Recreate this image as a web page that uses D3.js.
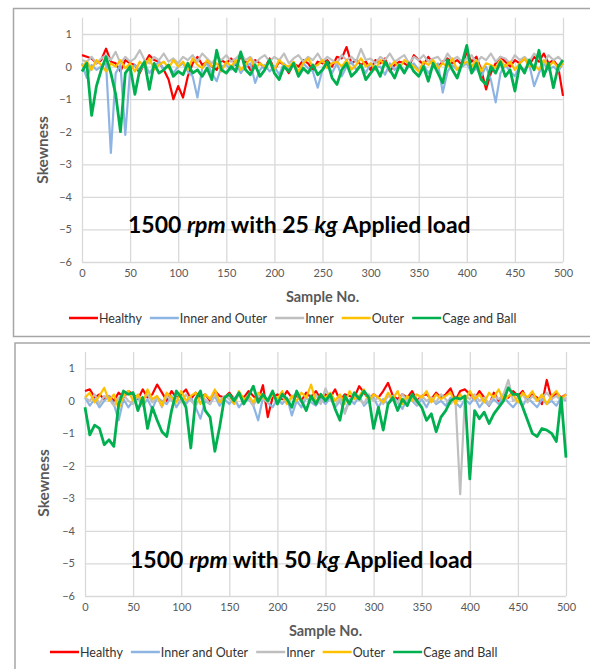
<!DOCTYPE html>
<html>
<head>
<meta charset="utf-8">
<script src="https://cdn.jsdelivr.net/npm/d3@7"></script>
<style>
    body { margin: 0; background: #fff; }
    text { font-family: Lato, 'Liberation Sans', sans-serif; }
</style>
</head>
<body>
<div id="d3-chart"></div>
<script>
// sample numbers (every 5th sample)
const sampleNo = d3.range(0, 501, 5);
const xTicks = [0, 50, 100, 150, 200, 250, 300, 350, 400, 450, 500];
const yTicks = [-6, -5, -4, -3, -2, -1, 0, 1];
const seriesNames = ['Healthy', 'Inner and Outer', 'Inner', 'Outer', 'Cage and Ball'];
const seriesColors = ['#FF0000', '#8EB4E3', '#BFBFBF', '#FFC000', '#00B050'];

// ---- 25 kg load ----
const healthy25 = [
    0.35, 0.3, 0.25, 0.1, 0.2, 0.55, 0.15, 0.1, -0.15, 0.2,
    0.1, 0.05, -0.2, 0.1, 0.35, 0.2, 0.15, -0.1, -0.4, -1.0,
    -0.6, -0.95, -0.3, 0.1, 0.3, 0.05, 0.15, 0.0, -0.1, 0.2,
    0.1, 0.25, 0.05, 0.3, 0.15, -0.1, 0.2, 0.1, -0.05, 0.25,
    -0.1, 0.15, 0.05, -0.2, 0.1, 0.0, 0.2, 0.1, -0.1, 0.15,
    0.1, 0.2, 0.0, 0.3, 0.25, 0.6, 0.1, 0.2, 0.05, 0.15,
    -0.1, 0.2, 0.1, 0.25, -0.15, 0.05, 0.15, 0.1, 0.0, 0.35,
    0.2, 0.05, 0.3, 0.1, 0.0, 0.15, 0.25, 0.1, 0.2, 0.05,
    0.45, 0.15, 0.3, -0.1, -0.7, -0.2, 0.1, 0.3, 0.15, 0.0,
    0.2, 0.1, 0.25, 0.05, 0.3, 0.15, 0.4, 0.1, 0.2, 0.0,
    -0.9
];
const innerOuter25 = [
    0.1, -0.35, 0.05, -0.1, 0.0, 0.1, -2.65, -0.2, 0.05, -2.1,
    -0.1, 0.05, -0.15, 0.1, -0.2, 0.0, 0.15, -0.1, 0.05, -0.2,
    0.0, 0.1, -0.15, -0.3, -0.95, -0.05, 0.1, -0.2, -0.45, 0.0,
    0.05, -0.1, 0.15, -0.2, 0.0, 0.1, -0.5, -0.1, 0.05, -0.15,
    0.0, -0.25, 0.1, -0.1, 0.05, -0.2, 0.1, -0.05, -0.15, -0.65,
    -0.1, 0.05, -0.2, 0.1, -0.3, 0.0, 0.15, -0.1, 0.05, -0.2,
    0.1, -0.05, 0.0, -0.25, 0.1, -0.1, 0.05, -0.15, 0.0, 0.1,
    -0.1, 0.05, -0.2, 0.0, 0.1, -0.8, -0.15, 0.05, -0.1, 0.0,
    0.1, -0.2, -0.05, -0.3, 0.0, -0.4, -1.1, -0.2, 0.05, -0.15,
    -0.3, 0.0, -0.1, 0.05, -0.6, -0.2, 0.1, -0.1, 0.0, -0.15,
    0.1
];
const inner25 = [
    0.2, 0.15, 0.3, 0.1, 0.25, 0.35, 0.2, 0.45, 0.1, 0.3,
    0.15, 0.25, 0.5, 0.2, 0.1, 0.3, 0.2, 0.4, 0.15, 0.25,
    0.1, 0.3, 0.2, 0.35, 0.15, 0.4, 0.25, 0.1, 0.3, 0.2,
    0.35, 0.15, 0.25, 0.4, 0.2, 0.3, 0.1, 0.25, 0.35, 0.15,
    0.3, 0.2, 0.4, 0.1, 0.25, 0.35, 0.15, 0.3, 0.2, 0.4,
    0.15, 0.3, 0.2, 0.1, 0.35, 0.2, 0.3, 0.15, 0.54, 0.2,
    0.25, 0.1, 0.3, 0.2, 0.4, 0.15, 0.25, 0.35, 0.1, 0.3,
    0.2, 0.35, 0.15, 0.25, 0.3, 0.1, 0.4, 0.2, 0.3, 0.15,
    0.25, 0.35, 0.1, 0.3, 0.2, 0.4, 0.15, 0.3, 0.25, 0.1,
    0.35, 0.2, 0.3, 0.15, 0.4, 0.25, 0.1, 0.35, 0.2, 0.3,
    0.15
];
const outer25 = [
    0.0, 0.15, -0.1, 0.2, 0.05, -0.15, 0.1, 0.0, 0.2, -0.05,
    0.1, -0.15, 0.15, 0.0, 0.25, -0.1, 0.05, 0.15, -0.05, 0.2,
    0.0, 0.15, -0.1, 0.25, 0.05, -0.05, 0.2, 0.0, 0.1, -0.15,
    0.15, 0.0, 0.2, -0.1, 0.05, 0.25, -0.05, 0.1, 0.0, 0.15,
    -0.1, 0.2, 0.05, 0.0, 0.15, -0.15, 0.1, 0.25, 0.0, 0.05,
    0.2, -0.05, 0.1, 0.15, 0.0, 0.2, -0.1, 0.05, 0.25, 0.0,
    0.1, -0.1, 0.2, 0.05, 0.0, 0.15, -0.05, 0.2, 0.1, 0.0,
    -0.15, 0.15, 0.05, 0.2, -0.05, 0.1, 0.0, 0.25, -0.1, 0.05,
    0.15, 0.0, 0.2, -0.15, 0.1, 0.05, -0.05, 0.2, 0.0, 0.15,
    -0.1, 0.1, 0.25, 0.0, 0.05, -0.1, 0.2, 0.0, 0.15, -0.05,
    0.1
];
const cageBall25 = [
    -0.15, 0.1, -1.5, -0.6, -0.1, 0.3, -0.2, -0.85, -2.0, -0.2,
    0.0, -0.85, -0.1, 0.15, -0.7, 0.1, -0.2, -0.1, 0.05, -0.3,
    -0.15, -0.25, 0.1, -0.2, -0.1, -0.3, -0.05, -0.4, 0.5, -0.1,
    -0.2, 0.0, -0.15, 0.45, -0.1, -0.25, 0.05, -0.3, -0.1, 0.2,
    -0.2, -0.4, 0.0, -0.15, 0.1, -0.3, -0.05, -0.2, 0.05, -0.25,
    -0.1, 0.15, -0.35, -0.55, -0.1, 0.1, -0.3, -0.15, 0.05, -0.4,
    -0.2, 0.0, -0.3, 0.15, -0.1, -0.35, 0.05, -0.2, 0.1, -0.15,
    -0.3, 0.0, -0.45, 0.1, -0.2, -0.5, 0.2, -0.1, -0.35, 0.1,
    0.65, -0.2, 0.1, -0.4, -0.55, 0.0, -0.2, 0.15, -0.3, -0.1,
    -0.75, 0.05, -0.2, 0.2, -0.1, 0.5, -0.3, 0.1, -0.65, 0.0,
    0.2
];

// ---- 50 kg load ----
const healthy50 = [
    0.3, 0.35, 0.1, 0.2, 0.05, 0.15, 0.0, 0.25, 0.1, 0.3,
    0.2, 0.05, 0.35, 0.1, 0.2, 0.5, 0.25, 0.0, 0.3, 0.1,
    0.2, 0.35, 0.05, 0.25, 0.1, 0.2, 0.0, 0.3, 0.15, 0.1,
    0.25, 0.05, 0.2, 0.1, 0.3, 0.15, 0.0, 0.48, -0.5, 0.1,
    0.2, 0.05, 0.3, 0.1, 0.15, 0.0, 0.25, 0.1, 0.3, 0.05,
    0.2, 0.1, 0.35, 0.0, 0.2, 0.15, 0.1, 0.45, 0.25, 0.05,
    0.2, 0.1, 0.3, 0.55, 0.15, 0.05, 0.2, 0.1, 0.3, 0.0,
    0.15, 0.2, 0.05, 0.25, 0.1, 0.2, 0.38, 0.0, 0.3, 0.35,
    0.2, 0.05, 0.3, 0.1, -0.15, 0.25, 0.0, 0.2, 0.1, 0.3,
    0.15, 0.3, 0.0, 0.2, 0.1, -0.1, 0.64, 0.05, 0.25, 0.1,
    0.2
];
const innerOuter50 = [
    0.1, -0.15, 0.05, -0.2, 0.0, 0.15, -0.1, -0.6, 0.05, -0.2,
    0.0, 0.1, -0.15, 0.05, -0.25, 0.1, 0.0, -0.1, 0.15, -0.2,
    0.05, -0.1, 0.1, -0.2, -0.55, 0.0, -0.1, 0.15, -0.15, 0.05,
    -0.1, 0.1, -0.2, 0.0, 0.05, -0.15, -0.6, 0.1, -0.05, -0.2,
    0.05, -0.1, 0.1, -0.45, 0.0, -0.2, 0.1, -0.05, -0.15, 0.05,
    -0.1, 0.1, -0.2, 0.0, -0.35, 0.05, -0.1, 0.15, -0.15, 0.0,
    0.1, -0.2, 0.05, -0.1, 0.15, -0.05, -0.25, 0.1, 0.0, -0.15,
    0.05, -0.2, 0.1, -0.1, 0.0, -0.15, 0.1, -0.05, -0.2, 0.05,
    -0.1, 0.1, -0.2, 0.0, -0.15, 0.05, -0.1, 0.15, -0.05, -0.2,
    0.0, -0.15, 0.1, -0.05, -0.2, 0.05, -0.1, 0.0, -0.15, 0.1,
    0.0
];
const inner50 = [
    0.1, 0.0, 0.2, -0.1, 0.15, 0.05, -0.15, 0.1, 0.2, 0.0,
    -0.1, 0.15, 0.05, 0.2, -0.05, 0.1, -0.2, 0.15, 0.0, 0.1,
    -0.05, 0.2, 0.0, -0.15, 0.1, 0.05, -0.1, 0.2, 0.0, 0.15,
    0.05, -0.1, 0.2, 0.0, 0.1, -0.15, 0.15, 0.05, -0.05, 0.2,
    0.0, 0.15, -0.1, 0.1, 0.25, -0.05, 0.1, 0.0, 0.2, -0.1,
    0.38, 0.05, -0.15, 0.1, -0.4, 0.0, 0.15, 0.05, -0.1, 0.2,
    0.0, 0.1, -0.1, 0.15, 0.05, -0.05, 0.2, 0.0, 0.1, -0.1,
    0.15, 0.0, 0.1, -0.05, 0.2, 0.05, -0.1, 0.1, -2.87, 0.15,
    0.05, 0.2, 0.0, 0.1, -0.1, 0.15, 0.05, 0.2, 0.64, 0.0,
    0.1, 0.2, -0.05, 0.15, 0.0, 0.1, 0.25, 0.05, 0.15, 0.0,
    0.1
];
const outer50 = [
    0.1, 0.25, -0.05, 0.15, 0.4, 0.0, 0.2, -0.25, 0.15, 0.3,
    0.0, 0.2, -0.1, 0.35, 0.05, 0.15, -0.15, 0.25, 0.1, -0.05,
    0.3, 0.0, 0.15, 0.25, -0.1, 0.2, 0.05, 0.35, -0.05, 0.1,
    0.2, -0.1, 0.3, 0.05, 0.15, -0.05, 0.25, 0.1, 0.0, 0.2,
    0.05, 0.3, -0.1, 0.15, 0.0, 0.25, 0.1, 0.5, -0.05, 0.2,
    0.1, 0.25, 0.0, 0.2, -0.1, 0.3, 0.05, 0.15, 0.35, 0.0,
    0.2, 0.1, -0.05, 0.25, 0.05, 0.3, -0.1, 0.15, 0.0, 0.2,
    0.1, 0.3, -0.05, 0.2, 0.05, 0.15, 0.25, -0.1, 0.2, 0.0,
    0.3, 0.05, 0.2, -0.05, 0.25, 0.1, 0.35, 0.0, 0.15, 0.2,
    -0.05, 0.25, 0.1, 0.3, 0.0, 0.2, -0.1, 0.15, 0.3, 0.05,
    0.2
];
const cageBall50 = [
    -0.2, -1.05, -0.75, -0.85, -1.35, -1.2, -1.4, -0.1, 0.3, 0.2,
    0.25, -0.3, 0.1, -0.85, -0.2, -0.6, -0.95, -1.1, -0.3, 0.3,
    0.1, -0.2, -1.45, 0.05, 0.3, -0.3, -0.5, -1.55, -0.8, 0.1,
    0.2, 0.0, 0.25, -0.1, 0.15, 0.45, -0.05, 0.2, 0.0, 0.3,
    -0.1, 0.2, 0.05, -0.2, 0.3, 0.0, -0.3, 0.15, -0.1, 0.2,
    0.0, 0.2, -0.25, -0.6, 0.15, -0.1, 0.25, 0.05, 0.3, 0.1,
    -0.85, -0.2, -0.9, -0.1, 0.1, -0.3, 0.05, -0.15, 0.2, 0.0,
    -0.2, -0.6, -0.4, -0.95, -0.5, -0.3, 0.0, 0.1, 0.05, 0.15,
    -2.4, -0.3, -0.55, -0.35, -0.7, -0.4, -0.2, 0.0, 0.4, 0.2,
    0.2, -0.2, -0.6, -1.0, -1.1, -0.85, -0.9, -1.0, -1.25, 0.1,
    -1.75
];

const svg = d3.select('#d3-chart').append('svg')
    .attr('width', 590)
    .attr('height', 669);

const drawPanel = (opts) => {
    // outer chart border
    svg.append('rect')
        .attr('x', opts.frameX)
        .attr('y', opts.frameY)
        .attr('width', 640 - opts.frameX)
        .attr('height', opts.frameH)
        .attr('fill', 'none')
        .attr('stroke', '#a6a6a6')
        .attr('stroke-width', 1.5);

    const xScale = d3.scaleLinear().domain([0, 500]).range([opts.left, opts.right]);
    const yScale = d3.scaleLinear().domain([-6, 1.5]).range([opts.bottom, opts.top]);
    const w = opts.right - opts.left;
    const h = opts.bottom - opts.top;

    // gridlines + tick labels
    const xAxis = d3.axisBottom(xScale).tickValues(xTicks).tickSize(-h).tickPadding(7);
    const yAxis = d3.axisLeft(yScale).tickValues(yTicks).tickSize(-w).tickPadding(10);
    const gx = svg.append('g')
        .attr('transform', 'translate(0,' + opts.bottom + ')')
        .call(xAxis);
    const gy = svg.append('g')
        .attr('transform', 'translate(' + opts.left + ',0)')
        .call(yAxis);
    [gx, gy].forEach(g => {
        g.select('.domain').remove();
        g.selectAll('.tick line').attr('stroke', '#d9d9d9').attr('stroke-width', 1.3);
        g.selectAll('.tick text')
            .attr('fill', '#595959')
            .style('font-size', '11px')
            .style('font-family', 'Lato, sans-serif');
    });
    gy.selectAll('.tick line').attr('x2', w);

    // series, drawn in legend order so green ends up on top
    const line = d3.line()
        .x((d, i) => xScale(sampleNo[i]))
        .y(d => yScale(d));
    opts.series.forEach((s, k) => {
        svg.append('path')
            .datum(s)
            .attr('fill', 'none')
            .attr('stroke', seriesColors[k])
            .attr('stroke-width', k === 4 ? 2.8 : 2.2)
            .attr('stroke-linejoin', 'round')
            .attr('d', line);
    });

    // axis titles
    svg.append('text')
        .attr('x', (opts.left + opts.right) / 2)
        .attr('y', opts.bottom + 40)
        .attr('text-anchor', 'middle')
        .attr('fill', '#595959')
        .style('font-size', '14.5px')
        .style('font-weight', 'bold')
        .text('Sample No.');
    svg.append('text')
        .attr('transform', 'translate(' + (opts.frameX + 34) + ',' + opts.yTitle + ') rotate(-90)')
        .attr('text-anchor', 'middle')
        .attr('fill', '#595959')
        .style('font-size', '15.5px')
        .style('font-weight', 'bold')
        .text('Skewness');

    // annotation inside the plot
    const note = svg.append('text')
        .attr('x', opts.noteX)
        .attr('y', opts.noteY)
        .attr('fill', '#000')
        .style('font-size', '23px')
        .style('font-weight', 'bold');
    note.append('tspan').text('1500 ');
    note.append('tspan').style('font-style', 'italic').text('rpm');
    note.append('tspan').text(' with ' + opts.load + ' ');
    note.append('tspan').style('font-style', 'italic').text('kg');
    note.append('tspan').text(' Applied load');

    // legend
    const legend = svg.append('g')
        .attr('transform', 'translate(0,' + (opts.bottom + 56) + ')');
    let lx = opts.legendX;
    seriesNames.forEach((name, k) => {
        legend.append('line')
            .attr('x1', lx).attr('x2', lx + 29)
            .attr('y1', 0).attr('y2', 0)
            .attr('stroke', seriesColors[k])
            .attr('stroke-width', 2.5);
        const t = legend.append('text')
            .attr('x', lx + 30)
            .attr('y', 4.5)
            .attr('fill', '#333')
            .style('font-size', '12.5px')
            .text(name);
        lx += 30 + t.node().getComputedTextLength() + 8;
    });
};

drawPanel({
    frameX: 13.5, frameY: 8.5, frameH: 328,
    left: 82, right: 563, top: 17.7, bottom: 262,
    yTitle: 150, noteX: 128, noteY: 233, load: '25', legendX: 69,
    series: [healthy25, innerOuter25, inner25, outer25, cageBall25]
});
drawPanel({
    frameX: 15, frameY: 343, frameH: 400,
    left: 85, right: 566, top: 352, bottom: 596,
    yTitle: 483, noteX: 130, noteY: 568, load: '50', legendX: 50,
    series: [healthy50, innerOuter50, inner50, outer50, cageBall50]
});
</script>
</body>
</html>
